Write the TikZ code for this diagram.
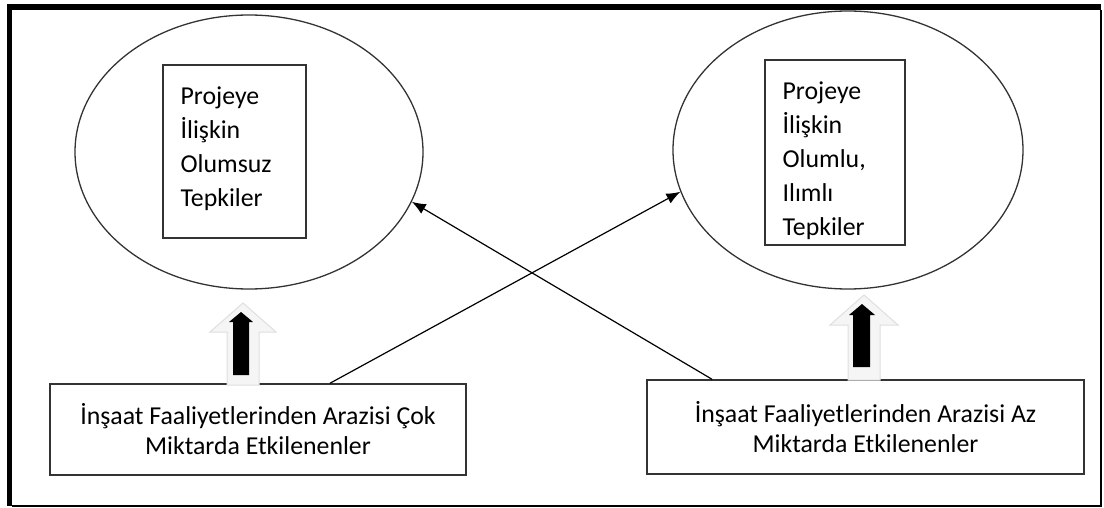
\documentclass[tikz,border=0pt]{standalone}
\usepackage{fontspec}
\setmainfont{Carlito}
\usetikzlibrary{shapes.geometric, arrows.meta}

\begin{document}
\begin{tikzpicture}[x=0.5pt, y=-0.5pt, font=\fontsize{12.9}{15}\selectfont]
	\tikzstyle{reaction} = [ellipse, draw=black!80, line width=0.65pt, inner sep=0pt]
	\tikzstyle{textbox} = [rectangle, draw=black!80, line width=0.75pt, inner sep=0pt]
	\tikzstyle{reactiontext} = [inner sep=0pt, anchor=north west, align=left, font=\fontsize{12.9}{17}\selectfont]
	\tikzstyle{affected} = [rectangle, draw=black!80, line width=0.75pt, align=center]
	\tikzstyle{arrow} = [-{Latex[length=7pt, width=5.5pt]}, line width=0.6pt]
	\tikzstyle{hollow} = [fill=gray!8, draw=gray!25, line width=0.5pt]
	
	\useasboundingbox (0,0) rectangle (1104,508);
	
	% Frame
	\fill (7,4) rectangle (12,506);
	\fill (7,4) rectangle (1101,10);
	\draw [line width=0.75pt] (12,506) -- (1101,506) -- (1101,10);
	
	% Reactions
	\node (olumsuz) [reaction, minimum width=174pt, minimum height=137pt] at (249,152) {};
	\node (olumlu) [reaction, minimum width=175pt, minimum height=139pt] at (848,150) {};
	
	\node (olumsuzbox) [textbox, minimum width=71.5pt, minimum height=86.5pt] at (234.5,151.5) {};
	\node (olumsuztext) [reactiontext] at ([xshift=9pt, yshift=-11pt]olumsuzbox.north west) {Projeye\\İlişkin\\Olumsuz\\Tepkiler};
	
	\node (olumlubox) [textbox, minimum width=70pt, minimum height=92.5pt] at (835,152.5) {};
	\node (olumlutext) [reactiontext] at ([xshift=9pt, yshift=-11pt]olumlubox.north west) {Projeye\\İlişkin\\Olumlu,\\Ilımlı\\Tepkiler};
	
	% Affected groups
	\node (cok) [affected, minimum width=208pt, minimum height=45.5pt] at (258,429.5) {İnşaat Faaliyetlerinden Arazisi Çok\\Miktarda Etkilenenler};
	\node (az) [affected, minimum width=218.5pt, minimum height=47pt] at (865.5,427) {İnşaat Faaliyetlerinden Arazisi Az\\Miktarda Etkilenenler};
	
	% Block arrows
	\draw [hollow] (227,385) -- (227,332) -- (210,332) -- (243,303) -- (276,332) -- (259,332) -- (259,385) -- cycle;
	\fill (233,375) -- (233,322) -- (229,322) -- (241,312) -- (253,322) -- (249,322) -- (249,375) -- cycle;
	\draw [hollow] (848,380) -- (848,325) -- (830,325) -- (864,295) -- (898,325) -- (880,325) -- (880,380) -- cycle;
	\fill (853,367) -- (853,315) -- (849,315) -- (862,304) -- (875,315) -- (870,315) -- (870,367) -- cycle;
	
	% Arrows
	\draw [arrow] ([xshift=36pt]cok.north) -- (olumlu.194.9);
	\draw [arrow] ([xshift=-76.75pt]az.north) -- (olumsuz.-17.7);
	
\end{tikzpicture}
\end{document}
